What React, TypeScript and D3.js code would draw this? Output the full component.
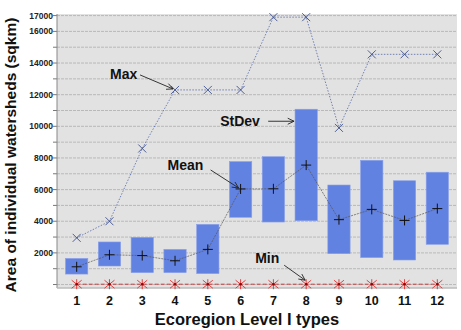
import * as d3 from "d3";
import React from "react";

// ecoregion types 1..12
const types = [1, 2, 3, 4, 5, 6, 7, 8, 9, 10, 11, 12];
const maxArea = [2950, 4000, 8600, 12300, 12300, 12300, 16900, 16900, 9900, 14550, 14550, 14550];
const meanArea = [1120, 1880, 1830, 1500, 2220, 6040, 6050, 7550, 4100, 4750, 4050, 4800];
const sdLow = [660, 1170, 750, 750, 690, 4250, 3950, 4030, 1950, 1700, 1550, 2540];
const sdHigh = [1650, 2690, 2980, 2220, 3800, 7770, 8080, 11080, 6290, 7850, 6560, 7100];
const minArea = [20, 20, 20, 20, 20, 20, 20, 20, 20, 20, 20, 20];
const yTicks = d3.range(0, 18000, 1000);
const yLabels = [2000, 4000, 6000, 8000, 10000, 12000, 14000, 16000, 17000];

const W = 461;
const H = 330;
const margin = { top: 14, right: 4, bottom: 42, left: 57 };
const font = "'Liberation Sans', Arial, sans-serif";

export default function App() {
  const x = d3.scaleLinear().domain([0.4, 12.6]).range([margin.left, W - margin.right]);
  const y = d3.scaleLinear().domain([-220, 17100]).range([H - margin.bottom, margin.top]);
  const boxW = x(0.68) - x(0);

  const line = d3
    .line<number>()
    .x((_, i) => x(types[i]))
    .y((d) => y(d));

  const arrow = (x1: number, y1: number, x2: number, y2: number) => {
    const a = Math.atan2(y2 - y1, x2 - x1);
    const L = 7;
    const s = 0.45;
    return (
      <g stroke="#222" strokeWidth={0.9} fill="none">
        <line x1={x1} y1={y1} x2={x2} y2={y2} />
        <path
          d={`M${x2 - L * Math.cos(a - s)},${y2 - L * Math.sin(a - s)}L${x2},${y2}L${
            x2 - L * Math.cos(a + s)
          },${y2 - L * Math.sin(a + s)}`}
        />
      </g>
    );
  };

  return (
    <svg
      width={W}
      height={H}
      style={{ position: "absolute", left: 0, top: 0, fontFamily: font }}
    >
      <rect width={W} height={H} fill="#fff" />
      <rect
        x={margin.left}
        y={margin.top}
        width={W - margin.left - margin.right}
        height={H - margin.top - margin.bottom}
        fill="#e2e2e2"
      />
      {/* grid */}
      {yTicks.map((t) => (
        <g key={t}>
          <line
            x1={margin.left}
            x2={W - margin.right}
            y1={y(t)}
            y2={y(t)}
            stroke="#a8a8a8"
            strokeWidth={0.7}
            strokeDasharray="3,1"
          />
          <line x1={margin.left - 4} x2={margin.left} y1={y(t)} y2={y(t)} stroke="#555" strokeWidth={0.8} />
        </g>
      ))}
      <line
        x1={margin.left}
        x2={margin.left}
        y1={margin.top}
        y2={H - margin.bottom}
        stroke="#888"
        strokeWidth={1}
      />
      <line
        x1={margin.left}
        x2={W - margin.right}
        y1={H - margin.bottom}
        y2={H - margin.bottom}
        stroke="#bbb"
        strokeWidth={1.5}
      />
      {yLabels.map((t) => (
        <text
          key={t}
          x={margin.left - 4}
          y={y(t)}
          dy="0.35em"
          textAnchor="end"
          fontSize={8.5}
          fontWeight="bold"
          fill="#222"
        >
          {t}
        </text>
      ))}
      {/* stdev boxes */}
      {types.map((t, i) => (
        <rect
          key={t}
          x={x(t) - boxW / 2}
          y={y(sdHigh[i])}
          width={boxW}
          height={y(sdLow[i]) - y(sdHigh[i])}
          fill="#6282e2"
          stroke="#8aa0e8"
          strokeWidth={0.6}
        />
      ))}
      {/* max */}
      <path d={line(maxArea) ?? ""} fill="none" stroke="#5468a8" strokeWidth={0.8} strokeDasharray="1.5,1.5" />
      {maxArea.map((v, i) => (
        <path
          key={i}
          d={`M${x(types[i]) - 4},${y(v) - 4}L${x(types[i]) + 4},${y(v) + 4}M${x(types[i]) - 4},${y(v) + 4}L${
            x(types[i]) + 4
          },${y(v) - 4}`}
          stroke="#3c4f8c"
          strokeWidth={0.9}
        />
      ))}
      {/* mean */}
      <path d={line(meanArea) ?? ""} fill="none" stroke="#555" strokeWidth={0.7} strokeDasharray="2,1" />
      {meanArea.map((v, i) => (
        <path
          key={i}
          d={`M${x(types[i]) - 5},${y(v)}L${x(types[i]) + 5},${y(v)}M${x(types[i])},${y(v) - 5}L${x(types[i])},${y(v) + 5}`}
          stroke="#111"
          strokeWidth={1}
        />
      ))}
      {/* min */}
      <path d={line(minArea) ?? ""} fill="none" stroke="#c03030" strokeWidth={0.9} strokeDasharray="4,2" />
      {minArea.map((v, i) => {
        const cx = x(types[i]);
        const cy = y(v);
        return (
          <g key={i} stroke="#e03030" strokeWidth={0.9}>
            <path d={`M${cx - 5},${cy - 4}L${cx + 5},${cy + 4}M${cx - 5},${cy + 4}L${cx + 5},${cy - 4}M${cx},${cy - 5}L${cx},${cy + 5}`} />
            <circle cx={cx} cy={cy} r={1.3} fill="#900" stroke="none" />
          </g>
        );
      })}
      {/* annotations */}
      <g fontSize={14} fontWeight="bold" fill="#111">
        <text x={x(4) - 65} y={y(maxArea[3]) - 11}>Max</text>
        {arrow(x(4) - 35, y(maxArea[3]) - 15, x(4) - 2, y(maxArea[3]) - 1)}
        <text x={x(8) - 86} y={y(sdHigh[7]) + 17}>StDev</text>
        {arrow(x(8) - 38, y(sdHigh[7]) + 12, x(8) - boxW / 2 - 1, y(sdHigh[7]) + 12)}
        <text x={x(6) - 73} y={y(meanArea[5]) - 19}>Mean</text>
        {arrow(x(6) - 30, y(meanArea[5]) - 19, x(6) - 2, y(meanArea[5]) - 1)}
        <text x={x(8) - 51} y={y(minArea[7]) - 21}>Min</text>
        {arrow(x(8) - 22, y(minArea[7]) - 19, x(8) - 1, y(minArea[7]) - 4)}
      </g>
      {/* x axis */}
      {types.map((t) => (
        <text
          key={t}
          x={x(t)}
          y={H - margin.bottom + 17}
          textAnchor="middle"
          fontSize={12.5}
          fontWeight="bold"
          fill="#111"
        >
          {t}
        </text>
      ))}
      <text x={247} y={H - 5} textAnchor="middle" fontSize={16.5} fontWeight="bold" fill="#111">
        Ecoregion Level I types
      </text>
      <text
        transform={`translate(16,${(margin.top + H - margin.bottom) / 2 + 4}) rotate(-90)`}
        textAnchor="middle"
        fontSize={15.5}
        fontWeight="bold"
        fill="#111"
      >
        Area of individual watersheds (sqkm)
      </text>
    </svg>
  );
}
